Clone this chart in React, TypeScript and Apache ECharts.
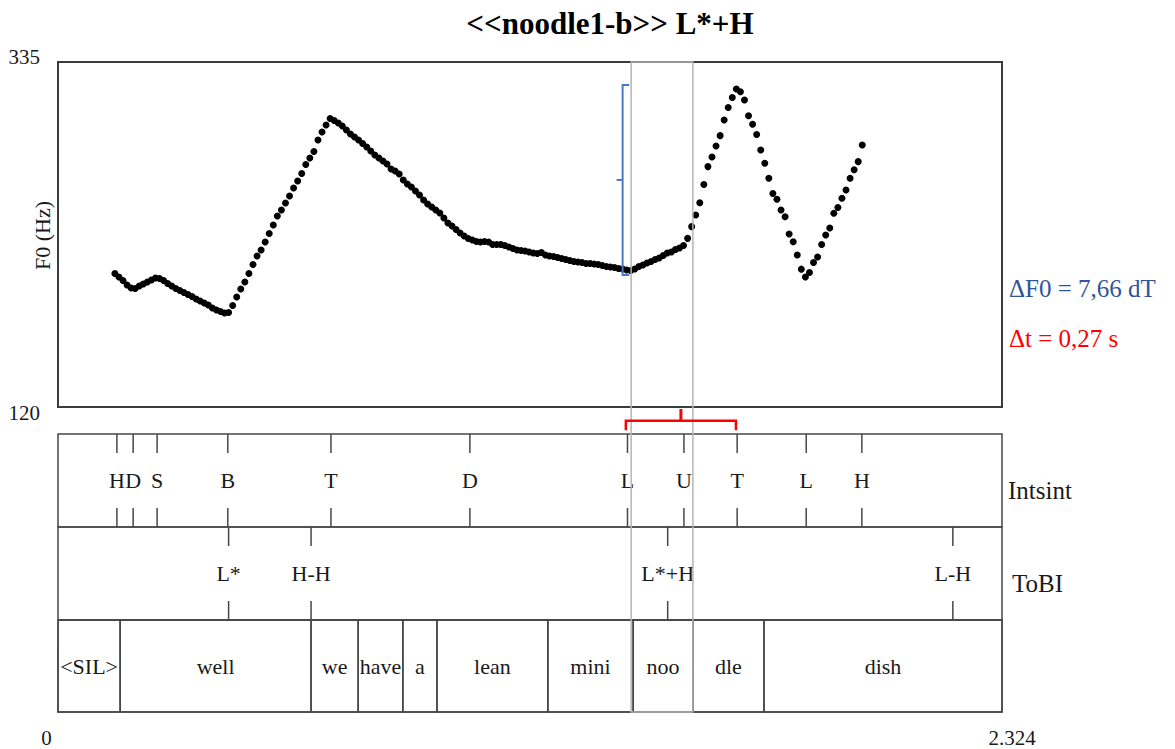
import React, { useEffect, useRef } from "react";
import * as echarts from "echarts";

// ---------- data ----------
const TITLE = "<<noodle1-b>> L*+H";
const T_MIN = 0;
const T_MAX = 2.324;
const F0_MIN = 120;
const F0_MAX = 335;
const Y_TICK_LABELS = ["335", "120"];
const X_TICK_LABELS = ["0", "2.324"];
const Y_AXIS_NAME = "F0 (Hz)";

const F0_TIME = [
  0.14, 0.15, 0.16, 0.17, 0.18, 0.19, 0.2, 0.21, 0.22, 0.23, 0.24, 0.25, 0.26, 0.27, 0.28, 0.29,
  0.3, 0.31, 0.32, 0.33, 0.34, 0.35, 0.36, 0.37, 0.38, 0.39, 0.4, 0.41, 0.42, 0.43, 0.44, 0.45,
  0.46, 0.47, 0.48, 0.49, 0.5, 0.51, 0.52, 0.53, 0.54, 0.55, 0.56, 0.57, 0.58, 0.59, 0.6, 0.61,
  0.62, 0.63, 0.64, 0.65, 0.66, 0.67, 0.68, 0.69, 0.7, 0.71, 0.72, 0.73, 0.74, 0.75, 0.76, 0.77,
  0.78, 0.79, 0.8, 0.81, 0.82, 0.83, 0.84, 0.85, 0.86, 0.87, 0.88, 0.89, 0.9, 0.91, 0.92, 0.93,
  0.94, 0.95, 0.96, 0.97, 0.98, 0.99, 1.0, 1.01, 1.02, 1.03, 1.04, 1.05, 1.06, 1.07, 1.08, 1.09,
  1.1, 1.11, 1.12, 1.13, 1.14, 1.15, 1.16, 1.17, 1.18, 1.19, 1.2, 1.21, 1.22, 1.23, 1.24, 1.25,
  1.26, 1.27, 1.28, 1.29, 1.3, 1.31, 1.32, 1.33, 1.34, 1.35, 1.36, 1.37, 1.38, 1.39, 1.4, 1.41,
  1.42, 1.43, 1.44, 1.45, 1.46, 1.47, 1.48, 1.49, 1.5, 1.51, 1.52, 1.53, 1.54, 1.55, 1.56, 1.57,
  1.58, 1.59, 1.6, 1.61, 1.62, 1.63, 1.64, 1.65, 1.66, 1.67, 1.68, 1.69, 1.7, 1.71, 1.72, 1.73,
  1.74, 1.75, 1.76, 1.77, 1.78, 1.79, 1.8, 1.81, 1.82, 1.83, 1.84, 1.85, 1.86, 1.87, 1.88, 1.89,
  1.9, 1.91, 1.92, 1.93, 1.94, 1.95, 1.96, 1.97, 1.98,
];

const F0_HZ = [
  203.2, 201.0, 198.8, 196.0, 194.2, 193.8, 195.4, 196.7, 197.9, 199.1, 200.4, 200.1, 198.8, 197.0, 195.4, 193.8,
  192.6, 191.4, 190.1, 188.9, 187.3, 186.1, 184.8, 183.6, 181.7, 180.4, 179.5, 178.6, 178.9, 183.3, 188.6, 193.5,
  197.9, 203.2, 208.8, 214.1, 217.8, 222.8, 228.1, 233.4, 239.0, 242.8, 247.1, 251.5, 256.5, 260.8, 265.5, 271.1,
  275.2, 279.2, 286.4, 291.4, 295.7, 299.8, 298.5, 297.0, 295.1, 292.6, 290.1, 288.3, 286.4, 284.2, 282.0, 279.5,
  277.0, 275.2, 273.3, 271.4, 268.3, 267.1, 265.2, 261.5, 259.0, 257.1, 254.6, 252.1, 249.0, 246.5, 244.6, 242.8,
  240.9, 237.8, 234.7, 232.8, 230.6, 228.4, 226.6, 225.0, 224.1, 223.1, 222.8, 223.1, 222.8, 221.3, 221.3, 221.3,
  220.6, 219.7, 218.8, 217.8, 217.5, 217.2, 216.6, 216.0, 215.7, 216.3, 214.7, 214.1, 213.8, 213.2, 212.5, 211.9,
  211.3, 210.7, 210.4, 210.1, 209.4, 209.4, 209.1, 208.8, 208.2, 207.6, 207.2, 206.9, 206.3, 206.0, 205.4, 205.1,
  206.0, 207.6, 208.5, 209.7, 210.7, 211.9, 212.9, 214.4, 216.0, 216.6, 218.2, 219.1, 220.6, 225.1, 232.4, 239.7,
  247.3, 258.7, 269.8, 275.8, 282.7, 289.1, 298.9, 306.6, 312.9, 318.2, 316.5, 311.3, 301.5, 296.2, 289.8, 280.2,
  271.9, 262.5, 253.1, 249.5, 242.8, 238.6, 227.8, 223.0, 214.7, 205.9, 201.0, 203.8, 210.1, 213.5, 221.3, 227.2,
  231.6, 240.7, 244.3, 250.1, 255.2, 262.5, 267.9, 272.9, 283.3,
];

const INTSINT_TIMES = [0.145, 0.185, 0.244, 0.418, 0.672, 1.014, 1.402, 1.541, 1.672, 1.842, 1.979];
const INTSINT_LABELS = ["H", "D", "S", "B", "T", "D", "L", "U", "T", "L", "H"];

const TOBI_TIMES = [0.42, 0.623, 1.501, 2.203];
const TOBI_LABELS = ["L*", "H-H", "L*+H", "L-H"];

const WORD_STARTS = [0, 0.153, 0.623, 0.739, 0.849, 0.933, 1.206, 1.416, 1.563, 1.738];
const WORD_ENDS = [0.153, 0.623, 0.739, 0.849, 0.933, 1.206, 1.416, 1.563, 1.738, 2.324];
const WORD_LABELS = ["<SIL>", "well", "we", "have", "a", "lean", "mini", "noo", "dle", "dish"];

const TIER_NAMES = ["Intsint", "ToBI"];

const SELECTION_SPAN = [1.411, 1.563];
const DF0_BRACKET_TIME = 1.39;
const DF0_SPAN = [202.3, 320.7];
const DT_SPAN = [1.398, 1.669];
const DF0_TEXT = "ΔF0 = 7,66 dT";
const DT_TEXT = "Δt = 0,27 s";

// ---------- styles ----------
const SERIF = "Liberation Serif, Times New Roman, serif";
const INK = "#1a1a1a";
const FRAME = "#3c3c3c";
const TIER_LINE = "#474747";
const BLUE_TEXT = "#2f5597";
const BLUE_LINE = "#4a78c2";
const RED = "#ff0000";

const PLOT = { left: 58, top: 62, width: 944, height: 345 };
const TIERS = [
  { top: 434, height: 93 },
  { top: 527, height: 93 },
  { top: 620, height: 92 },
];
const TICK = 19;
const TIER_FONT = 22;

function tierText(text: string, x: number, y: number) {
  return {
    type: "text",
    x,
    y,
    style: {
      text,
      align: "center",
      verticalAlign: "middle",
      font: `${TIER_FONT}px ${SERIF}`,
      fontSize: TIER_FONT,
      fontFamily: SERIF,
      fill: INK,
    },
  };
}

function tickTierSeries(idx: number, times: number[], labels: string[]) {
  return {
    type: "custom",
    xAxisIndex: idx,
    yAxisIndex: idx,
    silent: true,
    data: times.map((t) => [t, 0.5]),
    renderItem: (params: any, api: any) => {
      const cs = params.coordSys;
      const x = api.coord([api.value(0), 0.5])[0];
      const top = cs.y;
      const bot = cs.y + cs.height;
      const ls = { stroke: TIER_LINE, lineWidth: 1.5 };
      return {
        type: "group",
        children: [
          { type: "line", shape: { x1: x, y1: top, x2: x, y2: top + TICK }, style: ls },
          { type: "line", shape: { x1: x, y1: bot - TICK, x2: x, y2: bot }, style: ls },
          tierText(labels[params.dataIndex], x, (top + bot) / 2),
        ],
      };
    },
  };
}

export default function App() {
  const ref = useRef<HTMLDivElement>(null);

  useEffect(() => {
    if (!ref.current) return;
    const chart = echarts.init(ref.current, null, { renderer: "svg" });

    const grids = [
      { ...PLOT, show: true, borderColor: FRAME, borderWidth: 2, backgroundColor: "transparent" },
      ...TIERS.map((t) => ({
        left: PLOT.left,
        width: PLOT.width,
        top: t.top,
        height: t.height,
        show: true,
        borderColor: TIER_LINE,
        borderWidth: 1.5,
        backgroundColor: "transparent",
      })),
    ];

    const xAxes = grids.map((_, i) => ({
      type: "value",
      gridIndex: i,
      min: T_MIN,
      max: T_MAX,
      show: false,
    }));
    const yAxes = grids.map((_, i) =>
      i === 0
        ? { type: "value", gridIndex: 0, min: F0_MIN, max: F0_MAX, show: false }
        : { type: "value", gridIndex: i, min: 0, max: 1, show: false }
    );

    chart.setOption({
      animation: false,
      textStyle: { fontFamily: SERIF },
      grid: grids,
      xAxis: xAxes,
      yAxis: yAxes,
      series: [
        {
          type: "scatter",
          xAxisIndex: 0,
          yAxisIndex: 0,
          symbol: "circle",
          symbolSize: 7,
          itemStyle: { color: "#000", opacity: 1 },
          silent: true,
          data: F0_TIME.map((t, i) => [t, F0_HZ[i]]),
        },
        tickTierSeries(1, INTSINT_TIMES, INTSINT_LABELS),
        tickTierSeries(2, TOBI_TIMES, TOBI_LABELS),
        {
          type: "custom",
          xAxisIndex: 3,
          yAxisIndex: 3,
          silent: true,
          data: WORD_STARTS.map((s, i) => [s, WORD_ENDS[i]]),
          encode: { x: [0, 1] },
          renderItem: (params: any, api: any) => {
            const cs = params.coordSys;
            const x1 = api.coord([api.value(0), 0.5])[0];
            const x2 = api.coord([api.value(1), 0.5])[0];
            return {
              type: "group",
              children: [
                {
                  type: "rect",
                  shape: { x: x1, y: cs.y, width: x2 - x1, height: cs.height },
                  style: { fill: "none", stroke: TIER_LINE, lineWidth: 1.5 },
                },
                tierText(WORD_LABELS[params.dataIndex], (x1 + x2) / 2, cs.y + cs.height / 2),
              ],
            };
          },
        },
      ],
    });

    const p0 = (t: number, f: number) => chart.convertToPixel({ gridIndex: 0 }, [t, f]) as number[];
    const pw = (t: number, v: number) => chart.convertToPixel({ gridIndex: 3 }, [t, v]) as number[];

    const [plotLeft, plotTop] = p0(T_MIN, F0_MAX);
    const [plotRight, plotBottom] = p0(T_MAX, F0_MIN);
    const wordsBottom = pw(T_MAX, 0)[1];

    const selL = p0(SELECTION_SPAN[0], F0_MIN)[0];
    const selR = p0(SELECTION_SPAN[1], F0_MIN)[0];

    const bx = p0(DF0_BRACKET_TIME, F0_MIN)[0];
    const byLow = p0(DF0_BRACKET_TIME, DF0_SPAN[0])[1];
    const byHigh = p0(DF0_BRACKET_TIME, DF0_SPAN[1])[1];
    const byMid = (byLow + byHigh) / 2;

    const rL = p0(DT_SPAN[0], F0_MIN)[0];
    const rR = p0(DT_SPAN[1], F0_MIN)[0];
    const rMid = (rL + rR) / 2;
    const rY = plotBottom + 13.7;

    const txt = (text: string, x: number, y: number, extra: any = {}) => {
      const size = extra.fontSize || 22;
      const weight = extra.fontWeight || "normal";
      return {
        type: "text",
        x,
        y,
        z: 100,
        style: {
          text,
          font: `${weight} ${size}px ${SERIF}`,
          fontFamily: SERIF,
          fontSize: size,
          fill: INK,
          align: "left",
          verticalAlign: "middle",
          ...extra,
        },
      };
    };

    const tierMid1 = TIERS[0].top + TIERS[0].height / 2;
    const tierMid2 = TIERS[1].top + TIERS[1].height / 2;

    chart.setOption({
      graphic: [
        txt(TITLE, 610, 23, { align: "center", fontSize: 31, fontWeight: "bold", fill: "#000" }),
        txt(Y_TICK_LABELS[0], plotLeft - 18, plotTop - 5, { align: "right", fontSize: 21 }),
        txt(Y_TICK_LABELS[1], plotLeft - 18, plotBottom + 6, { align: "right", fontSize: 21 }),
        {
          type: "text",
          x: 42,
          y: (plotTop + plotBottom) / 2 + 1,
          rotation: Math.PI / 2,
          style: {
            text: Y_AXIS_NAME,
            font: `22px ${SERIF}`,
            fontFamily: SERIF,
            fontSize: 22,
            fill: INK,
            align: "center",
            verticalAlign: "middle",
          },
        },
        txt(X_TICK_LABELS[0], plotLeft - 11.5, wordsBottom + 26, { align: "center", fontSize: 21 }),
        txt(X_TICK_LABELS[1], plotRight + 10, wordsBottom + 26, { align: "center", fontSize: 21 }),
        txt(TIER_NAMES[0], plotRight + 6, tierMid1 + 9.5, { fontSize: 25 }),
        txt(TIER_NAMES[1], plotRight + 10, tierMid2 + 9.5, { fontSize: 25 }),
        txt(DF0_TEXT, plotRight + 7, 288.5, { fontSize: 25, fill: BLUE_TEXT }),
        txt(DT_TEXT, plotRight + 7, 338.5, { fontSize: 25, fill: RED }),
        // selection box
        {
          type: "rect",
          z: 90,
          shape: { x: selL, y: plotTop, width: selR - selL, height: wordsBottom - plotTop },
          style: { fill: "none", stroke: "#b5b5b5", lineWidth: 1.5 },
        },
        // blue ΔF0 bracket
        {
          type: "polyline",
          z: 95,
          shape: {
            points: [
              [bx + 6.6, byHigh],
              [bx, byHigh],
              [bx, byLow],
              [bx + 6.6, byLow],
            ],
          },
          style: { fill: "none", stroke: BLUE_LINE, lineWidth: 2 },
        },
        {
          type: "line",
          z: 95,
          shape: { x1: bx - 6, y1: byMid, x2: bx, y2: byMid },
          style: { stroke: BLUE_LINE, lineWidth: 2 },
        },
        // red Δt bracket
        {
          type: "polyline",
          z: 95,
          shape: {
            points: [
              [rL, rY + 9.5],
              [rL, rY],
              [rR, rY],
              [rR, rY + 9.5],
            ],
          },
          style: { fill: "none", stroke: RED, lineWidth: 2.5 },
        },
        {
          type: "line",
          z: 95,
          shape: { x1: rMid, y1: plotBottom + 2, x2: rMid, y2: rY },
          style: { stroke: RED, lineWidth: 3 },
        },
      ],
    });

    return () => chart.dispose();
  }, []);

  return (
    <div
      ref={ref}
      style={{ position: "fixed", left: 0, top: 0, width: 1175, height: 749, background: "#fff" }}
    />
  );
}
